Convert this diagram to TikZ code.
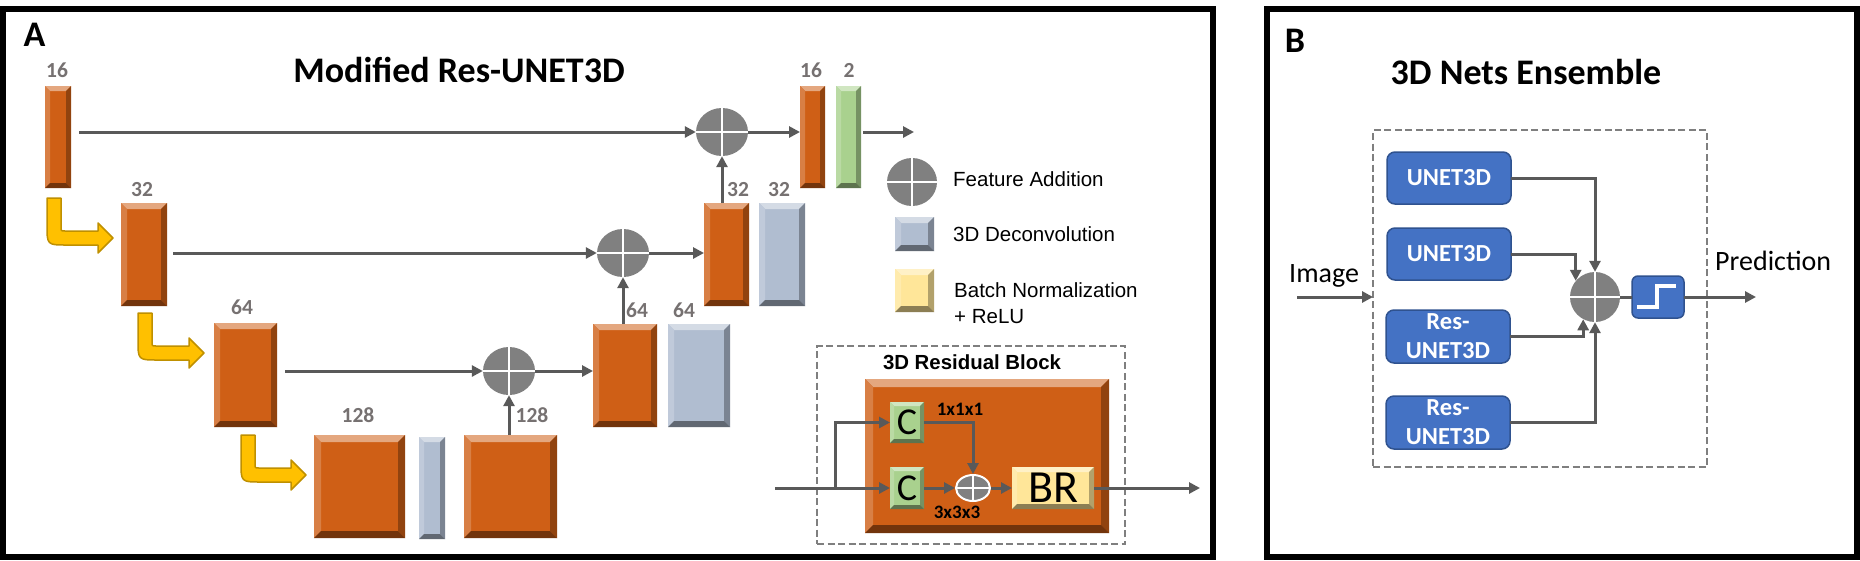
\documentclass[tikz,border=0pt]{standalone}
\usepackage{fontspec}
\setmainfont{Carlito}
\newfontfamily\arialf{Liberation Sans}
\usetikzlibrary{shapes.geometric,arrows.meta,calc}
\definecolor{org}{RGB}{207,95,22}
\definecolor{bgr}{RGB}{176,189,208}
\definecolor{grn}{RGB}{169,209,142}
\definecolor{ylw}{RGB}{255,230,153}
\definecolor{ygold}{RGB}{255,192,0}
\definecolor{ygoldD}{RGB}{191,144,0}
\definecolor{cgrey}{RGB}{128,128,128}
\definecolor{agrey}{RGB}{89,89,89}
\definecolor{lblgrey}{RGB}{118,113,113}
\definecolor{bblue}{RGB}{68,114,196}
\definecolor{bblueD}{RGB}{47,82,143}
\definecolor{dgrey}{RGB}{127,127,127}
\newcommand\mkblock[7]{\node[blk,#6,anchor=north west,minimum width={(#4)-(#2)},minimum height={(#5)-(#3)}] (#1) at (#2,#3) {#7};}
\newcommand\ybend[4]{%
 \filldraw[fill=ygold, draw=ygoldD, line width=1.5pt, line join=round]
 (#1,#2) -- ({#1+14},#2) -- ({#1+14},{#4-11}) .. controls ({#1+14},{#4-7}) .. ({#1+18},{#4-7})
 -- ({#3-15},{#4-7}) -- ({#3-15},{#4-15}) -- (#3,#4) -- ({#3-15},{#4+15}) -- ({#3-15},{#4+7})
 -- ({#1+20},{#4+7}) .. controls (#1,{#4+7}) .. (#1,{#4-13}) -- cycle;}
\begin{document}
\begin{tikzpicture}[x=1pt,y=-1pt,
  blk/.style={rectangle, inner sep=0pt, outer sep=0pt},
  bev/.style 2 args={fill=#1, path picture={
    \fill[#1!55!white] (path picture bounding box.north west) -- (path picture bounding box.north east) -- ([xshift=-#2pt,yshift=-#2pt]path picture bounding box.north east) -- ([xshift=#2pt,yshift=-#2pt]path picture bounding box.north west) -- cycle;
    \fill[#1!80!white] (path picture bounding box.north west) -- (path picture bounding box.south west) -- ([xshift=#2pt,yshift=#2pt]path picture bounding box.south west) -- ([xshift=#2pt,yshift=-#2pt]path picture bounding box.north west) -- cycle;
    \fill[#1!70!black] (path picture bounding box.north east) -- (path picture bounding box.south east) -- ([xshift=-#2pt,yshift=#2pt]path picture bounding box.south east) -- ([xshift=-#2pt,yshift=-#2pt]path picture bounding box.north east) -- cycle;
    \fill[#1!55!black] (path picture bounding box.south west) -- (path picture bounding box.south east) -- ([xshift=-#2pt,yshift=#2pt]path picture bounding box.south east) -- ([xshift=#2pt,yshift=#2pt]path picture bounding box.south west) -- cycle;
  }},
  lbl/.style={text=lblgrey, font=\bfseries\fontsize{21.5}{21.5}\selectfont, inner sep=0pt},
  arr/.style={draw=agrey, line width=3pt, -{Triangle[length=11pt,width=11pt]}},
  plain/.style={draw=agrey, line width=3pt},
  plusn/.style 2 args={ellipse, inner sep=0pt, minimum width=#1, minimum height=#2, fill=cgrey,
    path picture={\draw[white,line width=2.5pt] (path picture bounding box.north) -- (path picture bounding box.south) (path picture bounding box.west) -- (path picture bounding box.east);}},
  splus/.style={ellipse, inner sep=0pt, minimum width=34, minimum height=26, fill=cgrey, draw=white, line width=2pt,
    path picture={\draw[white,line width=2pt] (path picture bounding box.north) -- (path picture bounding box.south) (path picture bounding box.west) -- (path picture bounding box.east);}},
  dashbox/.style={blk, draw=dgrey, line width=2.5pt, dash pattern=on 7pt off 3.5pt},
  ubox/.style={rounded corners=8pt, fill=bblue, draw=bblueD, line width=1.5pt, text=white, align=center,
    font=\bfseries\fontsize{24.5}{29}\selectfont},
  legt/.style={font=\arialf\fontsize{20.5}{20.5}\selectfont, inner sep=0pt, anchor=base west},
  bigt/.style={font=\bfseries\fontsize{36}{36}\selectfont, inner sep=0pt},
]
\useasboundingbox (0,0) rectangle (1860,560);
\fill[white] (0,0) rectangle (1860,560);
% frames
\draw[line width=6pt] (3,9) rectangle (1213,557);
\draw[line width=6pt] (1266.5,9) rectangle (1857,557);

% ---------------- Panel A ----------------
\node[bigt] (lA) at (34.5,35) {A};
\node[bigt, anchor=base] (tA) at (459,82) {Modified Res-UNET3D};

\mkblock{e16}{45}{86}{71}{188}{bev={org}{5}}{}
\mkblock{e32}{121}{203}{167}{306}{bev={org}{6}}{}
\mkblock{e64}{214}{323}{277}{427}{bev={org}{6}}{}
\mkblock{m128a}{314}{435}{405}{538}{bev={org}{7}}{}
\mkblock{m128d}{419}{437}{445}{539}{bev={bgr}{5}}{}
\mkblock{m128b}{464}{435}{557}{538}{bev={org}{7}}{}
\mkblock{d64o}{593}{324}{657}{427}{bev={org}{6}}{}
\mkblock{d64b}{668}{324}{730}{427}{bev={bgr}{6}}{}
\mkblock{d32o}{704}{203}{749}{306}{bev={org}{6}}{}
\mkblock{d32b}{759}{203}{805}{306}{bev={bgr}{6}}{}
\mkblock{d16o}{800}{86}{825}{188}{bev={org}{5}}{}
\mkblock{d16g}{836}{86}{861}{188}{bev={grn}{5}}{}

\node[lbl] (l16a) at (57,70) {16};
\node[lbl] (l32a) at (142,190) {32};
\node[lbl] (l64a) at (242,307) {64};
\node[lbl] (l128a) at (358,415) {128};
\node[lbl] (l128b) at (532,415) {128};
\node[lbl] (l64b) at (637,310) {64};
\node[lbl] (l64c) at (684,310) {64};
\node[lbl] (l32b) at (738,190) {32};
\node[lbl] (l32c) at (779,190) {32};
\node[lbl] (l16b) at (811,70) {16};
\node[lbl] (l2) at (849,70) {2};

\node[plusn={52}{48}] (c1) at (722,132) {};
\node[plusn={52}{48}] (c2) at (623,253) {};
\node[plusn={52}{48}] (c3) at (509,371) {};

\draw[arr, shorten <=8pt] (e16.east |- c1.west) -- (c1.west);
\draw[arr, shorten <=6pt] (e32.east |- c2.west) -- (c2.west);
\draw[arr, shorten <=8pt] (e64.east |- c3.west) -- (c3.west);
\draw[arr] (c1.east) -- (c1.east -| d16o.west);
\draw[arr] (c2.east) -- (c2.east -| d32o.west);
\draw[arr] (c3.east) -- (c3.east -| d64o.west);
\draw[arr] (c1.south |- d32o.north) -- (c1.south);
\draw[arr] (c2.south |- d64o.north) -- (c2.south);
\draw[arr] (c3.south |- m128b.north) -- (c3.south);
\coordinate (outA) at (914,132);
\draw[arr, shorten <=2pt] (d16g.east |- outA) -- (outA);

\ybend{47}{198}{113}{238}
\ybend{138}{313}{204}{353}
\ybend{241}{435}{306}{475}

% legend
\node[plusn={50}{48}] (lg1) at (912,182) {};
\node[legt] (lt1) at (953,186) {Feature Addition};
\mkblock{lg2}{895}{217}{934}{251}{bev={bgr}{6}}{}
\node[legt] (lt2) at (953,241) {3D Deconvolution};
\mkblock{lg3}{895}{269}{934}{312}{bev={ylw}{6}}{}
\node[legt] (lt3) at (954,297) {Batch Normalization};
\node[legt] (lt4) at (954,323) {+ ReLU};

% residual block
\mkblock{rbox}{817}{346}{1125}{544}{dashbox}{}
\node[font=\arialf\bfseries\fontsize{20.4}{20.4}\selectfont, inner sep=0pt, anchor=base] (rt) at (972,369) {3D Residual Block};
\mkblock{rorg}{865}{379}{1109}{533}{bev={org}{8}}{}
\mkblock{ctop}{890}{402}{924}{443}{bev={grn}{4}}{\fontsize{38}{38}\selectfont C}
\mkblock{cbot}{890}{467}{924}{509}{bev={grn}{4}}{\fontsize{38}{38}\selectfont C}
\node[splus] (sp) at (973,488) {};
\mkblock{br}{1012}{467}{1094}{509}{bev={ylw}{5}}{\fontsize{46}{46}\selectfont BR}
\node[font=\bfseries\fontsize{19}{19}\selectfont, inner sep=0pt, anchor=base] (t111) at (960,415) {1x1x1};
\node[font=\bfseries\fontsize{19}{19}\selectfont, inner sep=0pt, anchor=base] (t333) at (957,518) {3x3x3};
\coordinate (rin) at (775,488);
\coordinate (rsplit) at (835,488);
\coordinate (rout) at (1200,488);
\draw[arr] (rin) -- (cbot.west);
\draw[arr] (rsplit) |- (ctop.west);
\draw[arr] (ctop.east) -| (sp.north);
\draw[arr] (cbot.east) -- (sp.west);
\draw[arr] (sp.east) -- (br.west);
\draw[arr] (br.east) -- (rout);

% ---------------- Panel B ----------------
\node[bigt] (lB) at (1295,41) {B};
\node[bigt, anchor=base] (tB) at (1526,84) {3D Nets Ensemble};
\mkblock{ens}{1373}{130}{1707}{467}{dashbox}{}
\mkblock{n1}{1387}{152}{1511}{204}{ubox}{UNET3D}
\mkblock{n2}{1387}{228}{1511}{280}{ubox}{UNET3D}
\mkblock{n3}{1386}{310}{1510}{363}{ubox}{Res-\\UNET3D}
\mkblock{n4}{1386}{396}{1510}{449}{ubox}{Res-\\UNET3D}
\node[plusn={50}{50}] (cb) at (1595,297) {};
\mkblock{stp}{1632}{276}{1684}{318}{ubox, rounded corners=6pt}{}
\draw[white, line width=3.5pt] (1637,307) -- (1657,307) -- (1657,286) -- (1676,286);
\node[font=\fontsize{28}{28}\selectfont, inner sep=0pt, anchor=base west] (img) at (1289,282) {Image};
\node[font=\fontsize{28}{28}\selectfont, inner sep=0pt, anchor=base west] (pred) at (1715,270) {Prediction};
\coordinate (pin) at (1297,297);
\coordinate (pout) at (1756,297);
\draw[arr] (pin) -- (pin -| ens.west);
\draw[plain] (cb.east) -- (stp.west);
\draw[arr] (stp.east) -- (pout);
\draw[arr] (n1.east) -| (cb.north);
\draw[arr] (n2.east) -| (cb.140);
\draw[arr] (n3.east) -| (cb.-118);
\draw[arr] (n4.east) -| (cb.south);
\end{tikzpicture}
\end{document}
